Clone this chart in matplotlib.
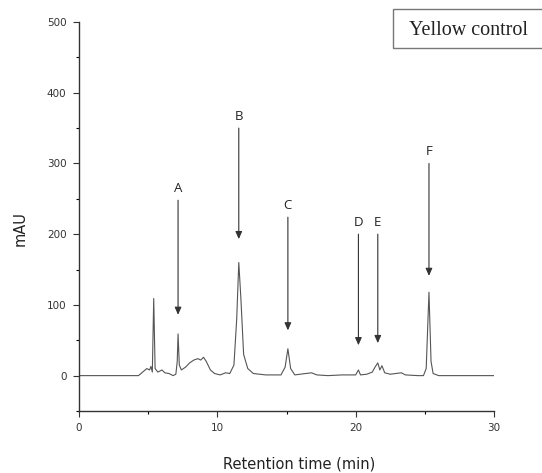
import matplotlib
matplotlib.use("Agg")
import matplotlib.pyplot as plt
from matplotlib.patches import Rectangle
from matplotlib.ticker import MultipleLocator

# Chromatogram trace (time in min, signal in mAU)
time = [0, 4.3, 4.6, 4.9, 5.1, 5.2, 5.3, 5.4, 5.5, 5.7, 6.0, 6.2, 6.5, 6.8,
        7.0, 7.1, 7.16, 7.25, 7.4, 7.7, 8.0, 8.3, 8.6, 8.8, 9.0, 9.2, 9.5,
        9.8, 10.2, 10.6, 10.9, 11.2, 11.4, 11.55, 11.7, 11.9, 12.2, 12.6,
        13.5, 14.6, 14.9, 15.1, 15.3, 15.6, 16.0, 16.8, 17.2, 18.0, 19.0,
        20.0, 20.2, 20.35, 20.8, 21.2, 21.4, 21.6, 21.75, 21.9, 22.1, 22.5,
        23.3, 23.6, 24.5, 24.9, 25.1, 25.3, 25.45, 25.6, 26.0, 30.0]
signal = [0, 0, 5, 10, 8, 13, 5, 109, 10, 5, 8, 4, 3, 0,
          2, 20, 59, 15, 8, 12, 18, 22, 24, 22, 26, 20, 8,
          3, 1, 4, 3, 15, 80, 160, 110, 30, 10, 3,
          1, 1, 12, 38, 10, 1, 2, 4, 1, 0, 1,
          1, 8, 1, 2, 5, 12, 18, 8, 14, 4, 2,
          4, 1, 0, 0, 10, 118, 20, 3, 0, 0]

# Peak labels and arrows
peak_names = ["A", "B", "C", "D", "E", "F"]
peak_time = [7.16, 11.55, 15.1, 20.2, 21.6, 25.3]
arrow_top = [248, 350, 224, 200, 200, 300]
arrow_tip = [86, 193, 64, 43, 46, 141]

fig = plt.figure(figsize=(5.42, 4.73), dpi=100)
ax = fig.add_axes([0.1458, 0.1311, 0.7656, 0.8224])

ax.plot(time, signal, color="#555555", lw=0.8)

for name, t, top, tip in zip(peak_names, peak_time, arrow_top, arrow_tip):
    ax.annotate("", xy=(t, tip), xytext=(t, top),
                arrowprops=dict(arrowstyle="-|>,head_length=0.45,head_width=0.2",
                                color="#333333", lw=0.8, shrinkA=0, shrinkB=0))
    ax.text(t, top + 7, name, ha="center", va="bottom", fontsize=9.5,
            family="Open Sans", color="#222222")

ax.set_xlim(0, 30)
ax.set_ylim(-50, 500)
ax.xaxis.set_major_locator(MultipleLocator(10))
ax.xaxis.set_minor_locator(MultipleLocator(5))
ax.yaxis.set_major_locator(MultipleLocator(100))
ax.yaxis.set_minor_locator(MultipleLocator(50))
ax.tick_params(which="major", length=4, width=0.8, labelsize=7.5,
               colors="#333333", pad=5)
ax.tick_params(which="minor", length=2, width=0.8)
for s in ["top", "right"]:
    ax.spines[s].set_visible(False)
for s in ["left", "bottom"]:
    ax.spines[s].set_linewidth(1.0)
    ax.spines[s].set_color("#333333")

ax.set_xlabel("Retention time (min)", fontsize=10.5, color="#222222")
ax.set_ylabel("mAU", fontsize=10.5, color="#222222")
ax.xaxis.set_label_coords(0.53, -0.117)
ax.yaxis.set_label_coords(-0.125, 0.47)

# sample label box
fig.patches.append(Rectangle((0.725, 0.898), 0.3, 0.083, transform=fig.transFigure,
                             fill=False, edgecolor="#777777", lw=1.0))
fig.text(0.755, 0.936, "Yellow control", family="Liberation Serif",
         fontsize=14.5, va="center", ha="left", color="#222222")

fig.savefig("out.png", dpi=100)
